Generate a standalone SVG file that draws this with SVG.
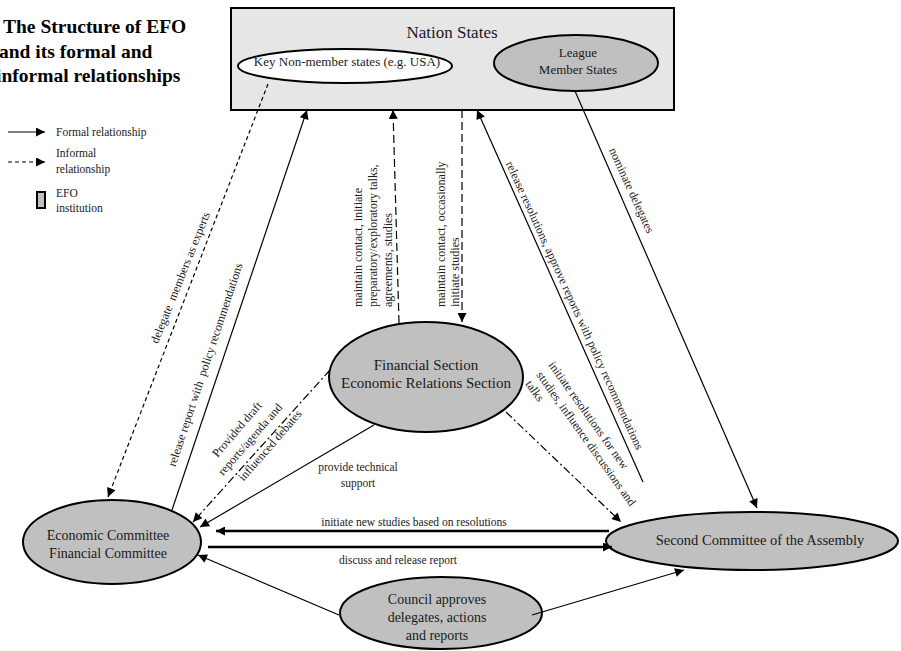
<svg xmlns="http://www.w3.org/2000/svg" width="901" height="651" viewBox="0 0 901 651">
<defs>
<style>
text{font-family:"Liberation Serif","Times New Roman",serif;fill:#1a1a1a}
.title{font-size:19.5px;font-weight:bold;fill:#000}
.leg{font-size:11.5px}
.lbl{font-size:12px}
.hl{font-size:11.5px;text-anchor:middle}
.node{fill:#c0c0c0;stroke:#000;stroke-width:2}
.c{fill:none;stroke:#000;stroke-width:1.2;marker-end:url(#ah)}
.thick{stroke-width:2.6}
.sd{stroke-dasharray:4,3}
.ld{stroke-dasharray:8,4}
.dd{stroke-dasharray:8,3,2,3}
</style>
<marker id="ah" viewBox="0 0 10 10" refX="10" refY="5" markerWidth="11" markerHeight="9" markerUnits="userSpaceOnUse" orient="auto"><path d="M0,0 L10,5 L0,10 z" fill="#000"/></marker>
</defs>
<rect width="901" height="651" fill="#fff"/>

<g id="title">
<text class="title" x="3" y="33">The Structure of EFO</text>
<text class="title" x="-1" y="58">and its formal and</text>
<text class="title" x="-4" y="82">informal relationships</text>
</g>

<g id="legend">
<line x1="8" y1="132" x2="45" y2="132" class="c"/>
<line x1="8" y1="162" x2="45" y2="162" class="c sd"/>
<rect x="37" y="192" width="8" height="16" fill="#c0c0c0" stroke="#000" stroke-width="2"/>
<text class="leg" x="56" y="136">Formal relationship</text>
<text class="leg" x="56" y="157">Informal</text>
<text class="leg" x="56" y="173">relationship</text>
<text class="leg" x="56" y="197">EFO</text>
<text class="leg" x="56" y="212">institution</text>
</g>

<g id="nation-states">
<rect x="231" y="8" width="443" height="102" fill="#e6e6e6" stroke="#000" stroke-width="2"/>
<text x="452" y="38" font-size="17" text-anchor="middle">Nation States</text>
</g>
<g id="key-non-member">
<ellipse cx="345" cy="66" rx="107" ry="17" fill="#fff" stroke="#000" stroke-width="2"/>
<text x="347" y="66" font-size="13" text-anchor="middle">Key Non-member states (e.g. USA)</text>
</g>
<g id="league-members">
<ellipse cx="576" cy="63" rx="82" ry="28" class="node"/>
<text x="578" y="57" font-size="13" text-anchor="middle">League</text>
<text x="578" y="74" font-size="13" text-anchor="middle">Member States</text>
</g>
<g id="sections">
<ellipse cx="426" cy="377" rx="97" ry="55" class="node"/>
<text x="426" y="370" font-size="15" text-anchor="middle">Financial Section</text>
<text x="426" y="388" font-size="15" text-anchor="middle">Economic Relations Section</text>
</g>
<g id="committees">
<ellipse cx="112" cy="542" rx="89" ry="42" class="node"/>
<text x="108" y="540" font-size="14" text-anchor="middle">Economic Committee</text>
<text x="108" y="558" font-size="14" text-anchor="middle">Financial Committee</text>
</g>
<g id="second-committee">
<ellipse cx="752" cy="541" rx="146" ry="29" class="node"/>
<text x="760" y="545" font-size="14.5" text-anchor="middle">Second Committee of the Assembly</text>
</g>
<g id="council">
<ellipse cx="441" cy="613" rx="101" ry="36" class="node"/>
<text x="437" y="604" font-size="14" text-anchor="middle">Council approves</text>
<text x="437" y="622" font-size="14" text-anchor="middle">delegates, actions</text>
<text x="437" y="640" font-size="14" text-anchor="middle">and reports</text>
</g>

<g id="connectors">
<path class="c sd" d="M268,84 L108,497"/>
<path class="c" d="M172,510 L307,110"/>
<path class="c ld" d="M399,323 L393,110"/>
<path class="c ld" d="M462,110 L462,322"/>
<path class="c" d="M643,482 L477,110"/>
<path class="c" d="M575,91 L757,508"/>
<path class="c dd" d="M330,370 L193,522"/>
<path class="c" d="M374,425 L200,527"/>
<path class="c dd" d="M506,412 L621,522"/>
<path class="c thick" d="M609,531 L216,531"/>
<path class="c thick" d="M208,547 L612,547"/>
<path class="c" d="M339,615 L198,555"/>
<path class="c" d="M532,615 L684,570"/>
</g>

<g id="labels">
<text class="lbl" xml:space="preserve" text-anchor="middle" transform="translate(184,279) rotate(-68)">delegate  members as experts</text>
<text class="lbl" xml:space="preserve" text-anchor="middle" transform="translate(209,366) rotate(-71.6)">release report with  policy recommendations</text>
<text class="lbl" transform="translate(362,307) rotate(-90)">maintain contact, initiate</text>
<text class="lbl" transform="translate(377,307) rotate(-90)">preparatory/exploratory talks,</text>
<text class="lbl" transform="translate(392,307) rotate(-90)">agreements, studies</text>
<text class="lbl" transform="translate(445,307) rotate(-90)">maintain contact, occasionally</text>
<text class="lbl" transform="translate(459,307) rotate(-90)">initiate studies</text>
<text class="lbl" text-anchor="middle" transform="translate(571,307) rotate(65.5)">release resolutions, approve reports with policy recommendations</text>
<text class="lbl" text-anchor="middle" transform="translate(628,192) rotate(65.5)">nominate delegates</text>
<text class="lbl" text-anchor="middle" transform="translate(240,432) rotate(-49)">Provided draft</text>
<text class="lbl" text-anchor="middle" transform="translate(253,442) rotate(-49)">reports/agenda and</text>
<text class="lbl" text-anchor="middle" transform="translate(273,448) rotate(-49)">influenced debates</text>
<text class="lbl" transform="translate(548,365) rotate(54.5)">initiate resolutions for new</text>
<text class="lbl" transform="translate(536,375) rotate(54.5)">studies, influence discussions and</text>
<text class="lbl" transform="translate(525,384) rotate(54.5)">talks</text>
<text class="hl" x="358" y="471">provide technical</text>
<text class="hl" x="358" y="487">support</text>
<text class="hl" x="414" y="526">initiate new studies based on resolutions</text>
<text class="hl" x="398" y="564">discuss and release report</text>
</g>
</svg>
